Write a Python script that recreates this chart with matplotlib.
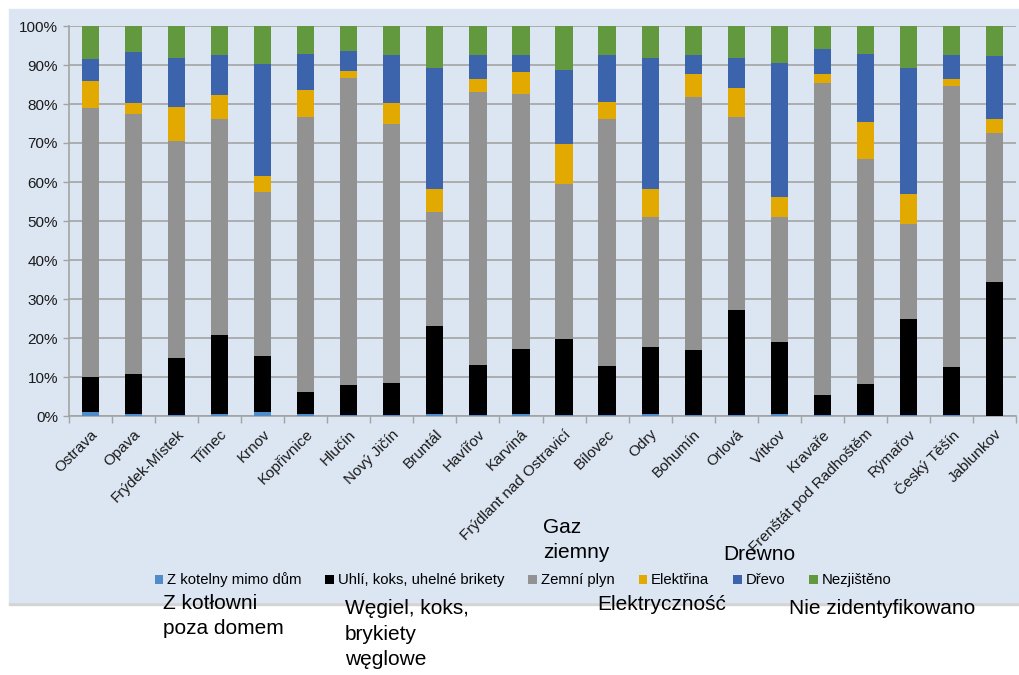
import numpy as np
import matplotlib
matplotlib.use("Agg")
import matplotlib.pyplot as plt
from matplotlib.patches import Rectangle

plt.rcParams["font.family"] = ["Liberation Sans", "DejaVu Sans"]

# Heating source shares per town (percent of dwellings)
towns = [
    "Ostrava", "Opava", "Frýdek-Místek", "Třinec", "Krnov", "Kopřivnice",
    "Hlučín", "Nový Jičín", "Bruntál", "Havířov", "Karviná",
    "Frýdlant nad Ostravicí", "Bílovec", "Odry", "Bohumín", "Orlová",
    "Vítkov", "Kravaře", "Frenštát pod Radhoštěm", "Rýmařov",
    "Český Těšín", "Jablunkov",
]

kotelna = [0.9, 0.5, 0.3, 0.5, 0.9, 0.5, 0.3, 0.3, 0.5, 0.3, 0.5,
           0.3, 0.3, 0.5, 0.3, 0.2, 0.5, 0.2, 0.2, 0.2, 0.2, 0.1]
uhli = [9.0, 10.3, 14.5, 20.3, 14.5, 5.7, 7.6, 8.1, 22.7, 12.7, 16.7,
        19.4, 12.4, 17.3, 16.5, 27.0, 18.6, 5.2, 7.9, 24.8, 12.4, 34.3]
plyn = [69.2, 66.6, 55.7, 55.4, 42.1, 70.5, 78.8, 66.4, 29.0, 70.2, 65.4,
        39.9, 63.5, 33.2, 65.0, 49.5, 31.8, 79.9, 57.8, 24.2, 72.1, 38.2]
elektrina = [6.7, 2.8, 8.8, 6.1, 4.1, 7.0, 1.8, 5.4, 5.9, 3.1, 5.7,
             10.1, 4.3, 7.1, 5.9, 7.5, 5.3, 2.4, 9.4, 7.6, 1.6, 3.6]
drevo = [5.7, 13.2, 12.5, 10.3, 28.6, 9.2, 5.1, 12.4, 31.2, 6.3, 4.3,
         19.1, 12.1, 33.7, 4.9, 7.6, 34.4, 6.4, 17.5, 32.5, 6.3, 16.1]
nezjisteno = [8.5, 6.6, 8.2, 7.4, 9.8, 7.1, 6.4, 7.4, 10.7, 7.4, 7.4,
              11.2, 7.4, 8.2, 7.4, 8.2, 9.4, 5.9, 7.2, 10.7, 7.4, 7.7]

series = [
    ("Z kotelny mimo dům", kotelna, "#4F8CC9"),
    ("Uhlí, koks, uhelné brikety", uhli, "#000000"),
    ("Zemní plyn", plyn, "#929292"),
    ("Elektřina", elektrina, "#E2AA00"),
    ("Dřevo", drevo, "#3B64AD"),
    ("Nezjištěno", nezjisteno, "#62993E"),
]

bg = "#DCE6F2"
W, H = 1020, 675
fig = plt.figure(figsize=(W / 100, H / 100), dpi=100)
fig.patch.set_facecolor("white")

# chart panel and its bottom shadow
fig.patches.append(Rectangle((9 / W, 1 - 605 / H), 1 - 9 / W, 3 / H,
                             transform=fig.transFigure, color="#D4D4D4", zorder=-2))
fig.patches.append(Rectangle((9 / W, 1 - 602 / H), 1 - 9 / W, 593 / H,
                             transform=fig.transFigure, color=bg, zorder=-1))

ax = fig.add_axes([69 / W, 1 - 416 / H, 947 / W, 390 / H])
ax.set_facecolor(bg)

x = np.arange(len(towns))
bottom = np.zeros(len(towns))
for name, vals, col in series:
    vals = np.array(vals)
    ax.bar(x, vals / 100, bottom=bottom / 100, width=0.4, color=col,
           label=name, zorder=3)
    bottom += vals

ax.set_xlim(-0.5, len(towns) - 0.5)
ax.set_ylim(0, 1)
ax.set_yticks(np.arange(0, 1.01, 0.1))
ax.set_yticklabels([f"{int(round(v * 100))}%" for v in np.arange(0, 1.01, 0.1)])
ax.yaxis.grid(True, color="#A3A3A3", linewidth=1.2, zorder=0)

ax.set_xticks(x)
ax.set_xticklabels(towns, rotation=45, ha="right", va="top",
                   rotation_mode="anchor")
ax.set_xticks(np.arange(-0.5, len(towns)), minor=True)
ax.tick_params(axis="x", which="major", length=0, pad=8, labelsize=11,
               colors="#1A1A1A")
ax.tick_params(axis="x", which="minor", length=5, color="#A3A3A3", width=1)
ax.tick_params(axis="y", length=4, color="#A3A3A3", width=1, pad=4,
               labelsize=11, labelcolor="#1A1A1A")

for side in ["top", "right"]:
    ax.spines[side].set_visible(False)
for side in ["left", "bottom"]:
    ax.spines[side].set_color("#A3A3A3")
    ax.spines[side].set_linewidth(1.2)

handles, labels = ax.get_legend_handles_labels()
fig.legend(handles, labels, loc="center", ncol=6,
           bbox_to_anchor=(523 / W, 1 - 580 / H), frameon=False,
           fontsize=10.7, handlelength=0.6, handleheight=0.6,
           handletextpad=0.25, columnspacing=1.6)

# Polish translations of the legend entries
notes = [
    ("Z kotłowni\npoza domem", 163, 616),
    ("Węgiel, koks,\nbrykiety\nwęglowe", 345, 634),
    ("Gaz\nziemny", 543, 540),
    ("Drewno", 723, 555),
    ("Elektryczność", 597, 605),
    ("Nie zidentyfikowano", 789, 608),
]
for txt, px, py in notes:
    fig.text(px / W, 1 - py / H, txt, fontsize=15, ha="left", va="center",
             linespacing=1.45, color="black")

fig.savefig("out.png", dpi=100)
